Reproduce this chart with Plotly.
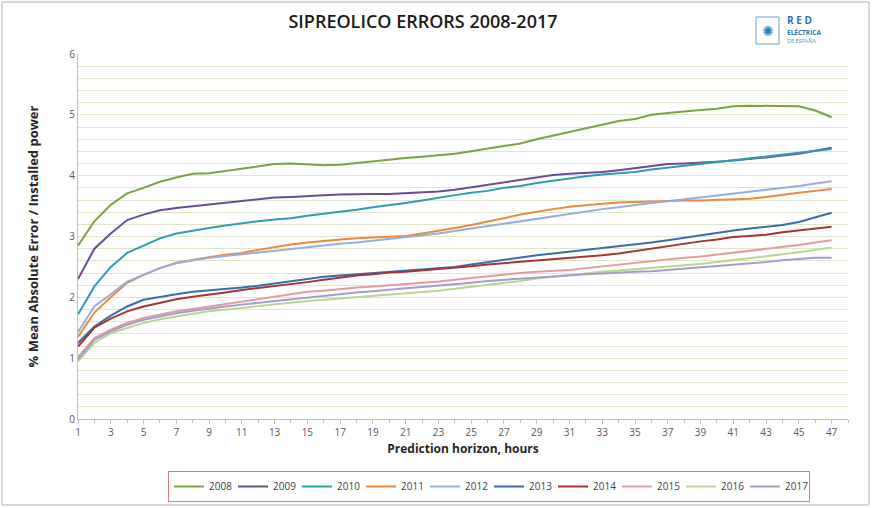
import plotly.graph_objects as go

hours = list(range(1, 48))
years = ["2008", "2009", "2010", "2011", "2012", "2013", "2014", "2015", "2016", "2017"]

err_2008 = [2.85, 3.25, 3.52, 3.71, 3.80, 3.90, 3.97, 4.03, 4.04, 4.08, 4.12, 4.15, 4.19, 4.20, 4.18, 4.17,
            4.18, 4.21, 4.24, 4.27, 4.29, 4.31, 4.33, 4.36, 4.40, 4.44, 4.48, 4.53, 4.60, 4.66, 4.72, 4.78,
            4.84, 4.90, 4.93, 5.00, 5.03, 5.06, 5.08, 5.10, 5.14, 5.15, 5.15, 5.15, 5.14, 5.07, 4.96]
err_2009 = [2.30, 2.80, 3.05, 3.27, 3.36, 3.43, 3.47, 3.50, 3.52, 3.55, 3.58, 3.61, 3.64, 3.65, 3.67, 3.68,
            3.69, 3.70, 3.70, 3.70, 3.71, 3.72, 3.74, 3.77, 3.81, 3.85, 3.89, 3.93, 3.97, 4.01, 4.03, 4.04,
            4.06, 4.09, 4.12, 4.16, 4.19, 4.20, 4.21, 4.23, 4.25, 4.27, 4.30, 4.33, 4.36, 4.41, 4.46]
err_2010 = [1.72, 2.18, 2.50, 2.73, 2.85, 2.97, 3.05, 3.10, 3.14, 3.18, 3.22, 3.25, 3.28, 3.30, 3.34, 3.37,
            3.41, 3.44, 3.48, 3.51, 3.55, 3.59, 3.64, 3.68, 3.72, 3.75, 3.80, 3.83, 3.88, 3.92, 3.96, 3.99,
            4.02, 4.04, 4.06, 4.10, 4.13, 4.16, 4.19, 4.22, 4.25, 4.28, 4.31, 4.34, 4.37, 4.40, 4.44]
err_2011 = [1.35, 1.75, 2.00, 2.24, 2.37, 2.48, 2.57, 2.62, 2.66, 2.70, 2.73, 2.78, 2.83, 2.87, 2.90, 2.93,
            2.95, 2.97, 2.98, 2.99, 3.01, 3.05, 3.09, 3.14, 3.19, 3.24, 3.30, 3.36, 3.41, 3.45, 3.49, 3.52,
            3.54, 3.56, 3.57, 3.58, 3.58, 3.59, 3.59, 3.60, 3.61, 3.62, 3.65, 3.69, 3.72, 3.75, 3.78]
err_2012 = [1.43, 1.85, 2.05, 2.26, 2.37, 2.48, 2.56, 2.61, 2.65, 2.68, 2.71, 2.74, 2.77, 2.80, 2.83, 2.86,
            2.88, 2.90, 2.93, 2.95, 2.98, 3.02, 3.05, 3.09, 3.13, 3.18, 3.22, 3.26, 3.30, 3.33, 3.37, 3.41,
            3.45, 3.48, 3.52, 3.55, 3.58, 3.61, 3.64, 3.68, 3.71, 3.74, 3.77, 3.80, 3.83, 3.87, 3.91]
err_2013 = [1.25, 1.52, 1.70, 1.85, 1.96, 2.01, 2.05, 2.09, 2.11, 2.13, 2.16, 2.19, 2.23, 2.27, 2.31, 2.34,
            2.36, 2.38, 2.40, 2.42, 2.43, 2.45, 2.47, 2.50, 2.54, 2.58, 2.62, 2.65, 2.69, 2.72, 2.75, 2.78,
            2.81, 2.83, 2.86, 2.90, 2.94, 2.98, 3.03, 3.07, 3.10, 3.13, 3.16, 3.19, 3.24, 3.31, 3.39]
err_2014 = [1.19, 1.50, 1.65, 1.77, 1.85, 1.91, 1.97, 2.01, 2.04, 2.08, 2.12, 2.15, 2.19, 2.22, 2.25, 2.29,
            2.33, 2.36, 2.38, 2.41, 2.42, 2.44, 2.46, 2.49, 2.51, 2.54, 2.56, 2.58, 2.60, 2.62, 2.64, 2.66,
            2.69, 2.72, 2.76, 2.81, 2.85, 2.88, 2.92, 2.95, 2.99, 3.01, 3.03, 3.07, 3.10, 3.13, 3.16]
err_2015 = [1.02, 1.33, 1.47, 1.58, 1.66, 1.72, 1.77, 1.81, 1.85, 1.89, 1.93, 1.97, 2.01, 2.05, 2.09, 2.11,
            2.14, 2.16, 2.18, 2.20, 2.21, 2.23, 2.26, 2.29, 2.32, 2.35, 2.38, 2.40, 2.42, 2.43, 2.45, 2.48,
            2.51, 2.54, 2.57, 2.59, 2.62, 2.65, 2.67, 2.70, 2.73, 2.76, 2.79, 2.82, 2.86, 2.90, 2.94]
err_2016 = [0.95, 1.25, 1.41, 1.50, 1.58, 1.64, 1.69, 1.73, 1.77, 1.80, 1.83, 1.86, 1.88, 1.91, 1.94, 1.96,
            1.98, 2.00, 2.02, 2.04, 2.06, 2.08, 2.11, 2.14, 2.17, 2.20, 2.23, 2.27, 2.31, 2.34, 2.36, 2.39,
            2.42, 2.44, 2.46, 2.48, 2.50, 2.53, 2.55, 2.58, 2.61, 2.64, 2.67, 2.70, 2.74, 2.78, 2.82]
err_2017 = [0.98, 1.30, 1.44, 1.55, 1.63, 1.69, 1.74, 1.78, 1.82, 1.85, 1.88, 1.91, 1.94, 1.97, 2.00, 2.03,
            2.05, 2.08, 2.10, 2.13, 2.15, 2.17, 2.19, 2.21, 2.24, 2.27, 2.29, 2.31, 2.33, 2.35, 2.36, 2.38,
            2.39, 2.41, 2.42, 2.43, 2.45, 2.47, 2.49, 2.51, 2.53, 2.55, 2.58, 2.61, 2.63, 2.65, 2.65]

series = [err_2008, err_2009, err_2010, err_2011, err_2012, err_2013, err_2014, err_2015, err_2016, err_2017]
colors = ["#7aa440", "#6b4c96", "#2f9cb2", "#ea8a3c", "#96aedb", "#3b6caa", "#a63434", "#e39c9e", "#b9d690", "#a99bcb"]

x_ticks = list(range(1, 48, 2))
y_ticks = [0, 1, 2, 3, 4, 5, 6]

fig = go.Figure()
for name, vals, col in zip(years, series, colors):
    fig.add_trace(go.Scatter(x=hours, y=vals, name=name, mode="lines",
                             line=dict(color=col, width=2)))

font_main = "Open Sans, Liberation Sans, Arial, sans-serif"

L, R, T, B = 78, 24, 54, 89
PW, PH = 872 - L - R, 508 - T - B


def px(xp):
    return (xp - L) / PW


def py(yp):
    return (508 - B - yp) / PH


fig.update_layout(
    width=872, height=508,
    margin=dict(l=L, r=R, t=T, b=B, autoexpand=False),
    paper_bgcolor="white", plot_bgcolor="white",
    font=dict(family=font_main, color="#404040"),
    title=dict(text="SIPREOLICO ERRORS 2008-2017", x=423 / 872, xanchor="center",
               y=1 - 22 / 508, yanchor="middle",
               font=dict(size=18, color="#1a1a1a", family=font_main, weight=600)),
    showlegend=True,
    legend=dict(orientation="h", x=px(489), xanchor="center", y=py(471), yanchor="top",
                bordercolor="#e07a7a", borderwidth=1, bgcolor="white",
                font=dict(size=10, color="#404040"),
                entrywidth=19, entrywidthmode="pixels", itemwidth=30,
                tracegroupgap=0),
    xaxis=dict(range=[1, 48], tickmode="array", tickvals=x_ticks,
               ticktext=[str(v) for v in x_ticks], automargin=False,
               showgrid=False, zeroline=False, showline=True, linecolor="#bfbfbf", linewidth=1,
               ticks="outside", ticklen=4, tickcolor="#bfbfbf",
               minor=dict(dtick=1, tick0=1, ticks="outside", ticklen=3, tickcolor="#bfbfbf", showgrid=False),
               tickfont=dict(size=10, color="#595959"),
               title=dict(text="<b>Prediction horizon, hours</b>", standoff=6,
                          font=dict(size=12, color="#262626"))),
    yaxis=dict(range=[0, 6], tickmode="array", tickvals=y_ticks, automargin=False,
               showgrid=True, gridcolor="#dfe6cc", gridwidth=1,
               zeroline=False, showline=True, linecolor="#bfbfbf", linewidth=1,
               ticks="", tickfont=dict(size=10, color="#595959"),
               minor=dict(dtick=0.2, tick0=0, showgrid=True, gridcolor="#dfe6cc", gridwidth=1),
               title=dict(text="<b>% Mean Absolute Error / Installed power</b>", standoff=27,
                          font=dict(size=13, color="#262626"))),
)

# outer frame
fig.add_shape(type="rect", xref="paper", yref="paper",
              x0=px(2), x1=px(869), y0=py(505), y1=py(2),
              line=dict(color="#b0b0b0", width=1), fillcolor="rgba(0,0,0,0)", layer="below")

# logo
fig.add_shape(type="rect", xref="paper", yref="paper",
              x0=px(756), x1=px(779), y0=py(44), y1=py(17),
              line=dict(color="#6aa6cf", width=1), fillcolor="white")
fig.add_annotation(xref="paper", yref="paper", x=px(767.5), y=py(30.5),
                   text="✺", showarrow=False, xanchor="center", yanchor="middle",
                   font=dict(size=14, color="#2f7fb8", family="DejaVu Sans"))
fig.add_annotation(xref="paper", yref="paper", x=px(785), y=py(20),
                   text="<b>R E D</b>", showarrow=False, xanchor="left", yanchor="middle",
                   font=dict(size=10, color="#2a78b5", family=font_main))
fig.add_annotation(xref="paper", yref="paper", x=px(785), y=py(32),
                   text="<b>ELÉCTRICA</b>", showarrow=False, xanchor="left", yanchor="middle",
                   font=dict(size=6.5, color="#2a78b5", family=font_main))
fig.add_annotation(xref="paper", yref="paper", x=px(785), y=py(41),
                   text="DE ESPAÑA", showarrow=False, xanchor="left", yanchor="middle",
                   font=dict(size=5.5, color="#5b95c4", family=font_main))

fig.write_html("out.html", config={"displayModeBar": False},
               post_script="document.body.style.margin='0px';")
